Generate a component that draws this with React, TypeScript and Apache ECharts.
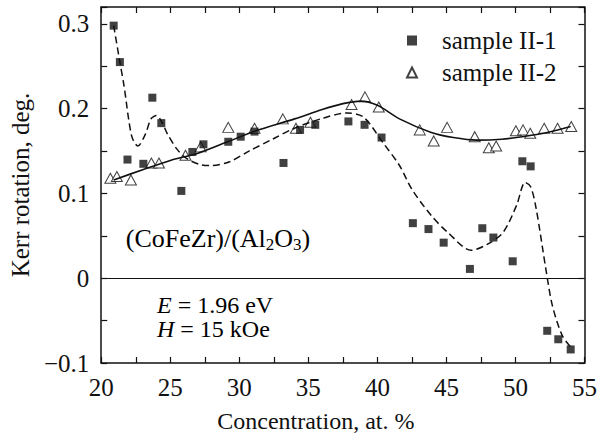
import React, { useEffect, useRef } from "react";
import * as echarts from "echarts";

// sample II-1 (filled squares)
const sample1X = [20.9, 21.35, 21.9, 23.05, 23.7, 24.35, 25.8, 26.6, 27.4, 29.2, 30.1, 31.1, 33.2, 34.4, 35.5, 37.9, 39.07, 40.3, 42.57, 43.7, 44.8, 46.7, 47.6, 48.4, 49.8, 50.5, 51.1, 52.3, 53.1, 54.0];
const sample1Y = [0.298, 0.255, 0.14, 0.135, 0.213, 0.183, 0.103, 0.149, 0.158, 0.161, 0.167, 0.173, 0.136, 0.175, 0.181, 0.185, 0.181, 0.166, 0.065, 0.058, 0.042, 0.011, 0.059, 0.048, 0.02, 0.138, 0.132, -0.062, -0.072, -0.084];

// sample II-2 (open triangles)
const sample2X = [20.66, 21.13, 22.15, 23.63, 24.18, 26.1, 27.2, 29.2, 31.1, 33.15, 34.1, 35.15, 38.13, 39.1, 40.1, 43.07, 44.08, 45.05, 47.05, 48.07, 48.6, 50.03, 50.55, 51.07, 52.08, 53.05, 54.04];
const sample2Y = [0.118, 0.12, 0.116, 0.136, 0.136, 0.145, 0.155, 0.178, 0.177, 0.188, 0.177, 0.184, 0.205, 0.214, 0.202, 0.175, 0.162, 0.178, 0.167, 0.154, 0.156, 0.174, 0.175, 0.171, 0.177, 0.177, 0.179];

// dashed fit curve for sample II-1
const fit1X = [20.9, 21.35, 21.65, 22.2, 22.65, 23.2, 23.6, 24.0, 24.4, 24.8, 25.5, 26.2, 27.2, 28.0, 29.3, 30.7, 32.4, 34.0, 35.9, 37.8, 39.0, 40.4, 41.6, 42.5, 43.9, 45.1, 46.8, 47.95, 49.1, 50.08, 50.7, 51.1, 51.5, 52.2, 52.67, 53.4, 54.1];
const fit1Y = [0.298, 0.255, 0.227, 0.168, 0.156, 0.17, 0.188, 0.192, 0.184, 0.17, 0.152, 0.141, 0.134, 0.133, 0.1375, 0.15, 0.164, 0.177, 0.188, 0.195, 0.19, 0.16, 0.133, 0.105, 0.074, 0.054, 0.033, 0.04, 0.054, 0.086, 0.113, 0.108, 0.082, 0.011, -0.032, -0.068, -0.083];

// solid fit curve for sample II-2
const fit2X = [20.9, 23.0, 25.0, 26.9, 29.0, 31.2, 34.0, 36.0, 37.5, 38.8, 40.0, 41.6, 43.9, 45.5, 47.2, 49.0, 50.5, 52.3, 54.0];
const fit2Y = [0.116, 0.128, 0.139, 0.147, 0.16, 0.174, 0.188, 0.199, 0.206, 0.209, 0.204, 0.188, 0.172, 0.166, 0.163, 0.164, 0.167, 0.172, 0.179];

const seriesNames = ["sample II-1", "sample II-2"];
const yTickLabels: Record<string, string> = { "-0.1": "\u22120.1", "0": "0", "0.1": "0.1", "0.2": "0.2", "0.3": "0.3" };
const xTickLabels = ["20", "25", "30", "35", "40", "45", "50", "55"];

const zip = (xs: number[], ys: number[]) => xs.map((x, i) => [x, ys[i]]);

const FONT = "Liberation Serif";
const FS = 25;

export default function App() {
  const ref = useRef<HTMLDivElement>(null);
  useEffect(() => {
    if (!ref.current) return;
    document.body.style.margin = "0";
    const chart = echarts.init(ref.current, undefined, { renderer: "svg" });
    const axisLine = { show: true, onZero: false, lineStyle: { color: "#111", width: 1.5 } };
    const tick = { show: true, inside: true, length: 6, lineStyle: { color: "#111", width: 1.2 } };
    const xFmt = (v: number) => {
      const s = String(Math.round(v * 10) / 10);
      return xTickLabels.includes(s) ? s : "";
    };
    const yFmt = (v: number) => {
      const s = String(Math.round(v * 100) / 100);
      return yTickLabels[s] ?? "";
    };
    const txt = { fontFamily: FONT, fontSize: FS, color: "#111" };
    chart.setOption({
      animation: false,
      backgroundColor: "#fff",
      textStyle: { fontFamily: FONT },
      grid: { left: 92, right: 14, top: 7, bottom: 78 },
      legend: {
        orient: "vertical",
        left: 401,
        top: 23,
        itemWidth: 10,
        itemHeight: 10,
        itemGap: 7,
        data: [
          { name: seriesNames[0], icon: "rect" },
          { name: seriesNames[1], icon: "triangle" },
        ],
        textStyle: { ...txt, padding: [0, 0, 0, 20] },
      },
      xAxis: [
        {
          type: "value", min: 20, max: 55, interval: 2.5, position: "bottom",
          axisLine, axisTick: tick, splitLine: { show: false },
          axisLabel: { formatter: xFmt, ...txt, margin: 12 },
          name: "Concentration, at. %", nameLocation: "middle", nameGap: 46,
          nameTextStyle: { ...txt, fontSize: 24, padding: [0, 54, 0, 0] },
        },
        {
          type: "value", min: 20, max: 55, interval: 2.5, position: "top",
          axisLine, axisTick: tick, splitLine: { show: false }, axisLabel: { show: false },
        },
      ],
      yAxis: [
        {
          type: "value", min: -0.1, max: 0.32, interval: 0.05, position: "left",
          axisLine, axisTick: tick, splitLine: { show: false },
          axisLabel: { formatter: yFmt, ...txt, margin: 12 },
          name: "Kerr rotation, deg.", nameLocation: "middle", nameGap: 57,
          nameTextStyle: txt,
        },
        {
          type: "value", min: -0.1, max: 0.32, interval: 0.05, position: "right",
          axisLine, axisTick: tick, splitLine: { show: false }, axisLabel: { show: false },
        },
      ],
      series: [
        {
          name: "fit II-1", type: "line", data: zip(fit1X, fit1Y), smooth: 0.3, showSymbol: false,
          symbol: "none", lineStyle: { color: "#111", width: 1.5, type: [7, 4] }, silent: true,
          markLine: {
            silent: true, symbol: "none", label: { show: false },
            lineStyle: { color: "#111", width: 1.2, type: "solid" },
            data: [{ yAxis: 0 }],
          },
        },
        {
          name: "fit II-2", type: "line", data: zip(fit2X, fit2Y), smooth: 0.3, showSymbol: false,
          symbol: "none", lineStyle: { color: "#111", width: 1.6, type: "solid" }, silent: true,
        },
        {
          name: seriesNames[1], type: "scatter", data: zip(sample2X, sample2Y), symbol: "triangle",
          symbolSize: [11, 10], itemStyle: { color: "#fff", borderColor: "#111", borderWidth: 1 },
        },
        {
          name: seriesNames[0], type: "scatter", data: zip(sample1X, sample1Y), symbol: "rect",
          symbolSize: 8, itemStyle: { color: "#111" },
        },
      ],
      graphic: [
        {
          type: "text", x: 218, y: 238,
          style: {
            text: "{m|(CoFeZr)/(Al}{s|2}{m|O}{s|3}{m|)}",
            align: "center", verticalAlign: "middle",
            rich: {
              m: { ...txt, fontSize: 26, lineHeight: 28, verticalAlign: "middle" },
              s: { fontFamily: FONT, fontSize: 17, color: "#111", lineHeight: 16, padding: [12, 0, 0, 0], verticalAlign: "middle" },
            },
          },
        },
        {
          type: "text", x: 157, y: 305,
          style: {
            text: "{i|E}{m| = 1.96 eV}", align: "left", verticalAlign: "middle",
            rich: {
              i: { ...txt, fontSize: 24, fontStyle: "italic", lineHeight: 22 },
              m: { ...txt, fontSize: 24, lineHeight: 22 },
            },
          },
        },
        {
          type: "text", x: 157, y: 329,
          style: {
            text: "{i|H}{m| = 15 kOe}", align: "left", verticalAlign: "middle",
            rich: {
              i: { ...txt, fontSize: 24, fontStyle: "italic", lineHeight: 22 },
              m: { ...txt, fontSize: 24, lineHeight: 22 },
            },
          },
        },
      ],
    });
    return () => chart.dispose();
  }, []);
  return <div ref={ref} style={{ width: 600, height: 441, background: "#fff" }} />;
}
